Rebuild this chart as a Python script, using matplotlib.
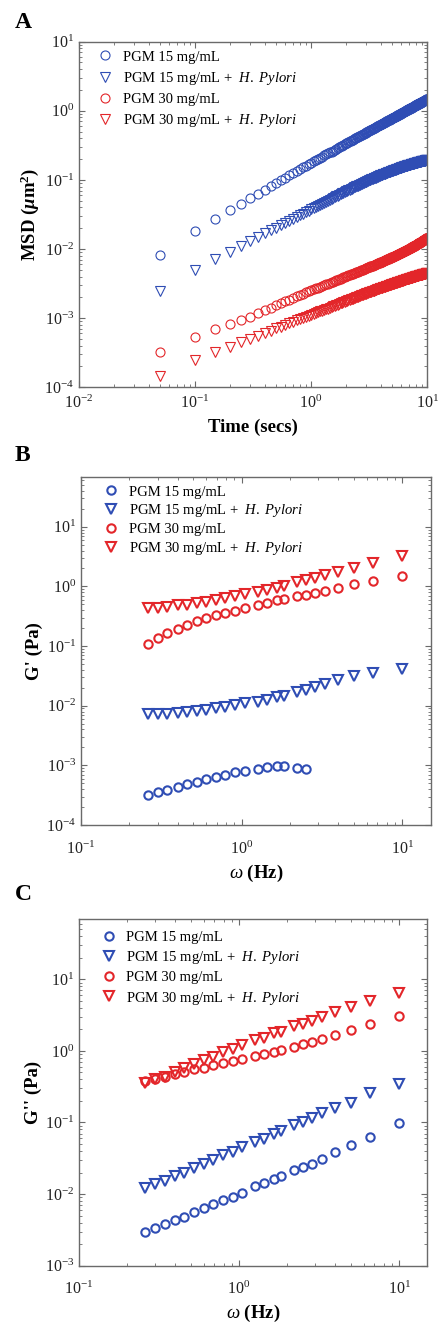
import matplotlib
matplotlib.use("Agg")
import matplotlib.pyplot as plt
from matplotlib.ticker import LogLocator, NullFormatter

plt.rcParams["font.family"] = "Liberation Serif"
plt.rcParams["mathtext.fontset"] = "custom"
plt.rcParams["mathtext.rm"] = "Liberation Serif"
plt.rcParams["mathtext.it"] = "Liberation Serif:italic"
plt.rcParams["mathtext.bf"] = "Liberation Serif:bold"
plt.rcParams["mathtext.bfit"] = "Liberation Serif:italic:bold"

# ---- particle tracking MSD (lag time in s) ----
time_s = [
    0.05, 0.1, 0.15, 0.2, 0.25, 0.3, 0.35, 0.4, 0.45, 0.5, 0.55, 0.6, 0.65, 0.7, 0.75, 0.8, 0.85, 0.9, 0.95, 1.0,
    1.05, 1.1, 1.15, 1.2, 1.25, 1.3, 1.35, 1.4, 1.45, 1.5, 1.55, 1.6, 1.65, 1.7, 1.75, 1.8, 1.85, 1.9, 1.95, 2.0,
    2.05, 2.1, 2.15, 2.2, 2.25, 2.3, 2.35, 2.4, 2.45, 2.5, 2.55, 2.6, 2.65, 2.7, 2.75, 2.8, 2.85, 2.9, 2.95, 3.0,
    3.05, 3.1, 3.15, 3.2, 3.25, 3.3, 3.35, 3.4, 3.45, 3.5, 3.55, 3.6, 3.65, 3.7, 3.75, 3.8, 3.85, 3.9, 3.95, 4.0,
    4.05, 4.1, 4.15, 4.2, 4.25, 4.3, 4.35, 4.4, 4.45, 4.5, 4.55, 4.6, 4.65, 4.7, 4.75, 4.8, 4.85, 4.9, 4.95, 5.0,
    5.05, 5.1, 5.15, 5.2, 5.25, 5.3, 5.35, 5.4, 5.45, 5.5, 5.55, 5.6, 5.65, 5.7, 5.75, 5.8, 5.85, 5.9, 5.95, 6.0,
    6.05, 6.1, 6.15, 6.2, 6.25, 6.3, 6.35, 6.4, 6.45, 6.5, 6.55, 6.6, 6.65, 6.7, 6.75, 6.8, 6.85, 6.9, 6.95, 7.0,
    7.05, 7.1, 7.15, 7.2, 7.25, 7.3, 7.35, 7.4, 7.45, 7.5, 7.55, 7.6, 7.65, 7.7, 7.75, 7.8, 7.85, 7.9, 7.95, 8.0,
    8.05, 8.1, 8.15, 8.2, 8.25, 8.3, 8.35, 8.4, 8.45, 8.5, 8.55, 8.6, 8.65, 8.7, 8.75, 8.8, 8.85, 8.9, 8.95, 9.0,
    9.05, 9.1, 9.15, 9.2, 9.25, 9.3, 9.35, 9.4, 9.45, 9.5, 9.55, 9.6, 9.65, 9.7, 9.75, 9.8, 9.85, 9.9, 9.95, 10.0,
]

msd_15 = [
    0.0083, 0.0184, 0.0275, 0.0365, 0.0454, 0.0544, 0.0633, 0.0722, 0.0811, 0.0900, 0.0988, 0.1077, 0.1165, 0.1253, 0.1341, 0.1429, 0.1517, 0.1605, 0.1692, 0.178,
    0.186, 0.1939, 0.2019, 0.2098, 0.2178, 0.2257, 0.2337, 0.2416, 0.2496, 0.2575, 0.2655, 0.2734, 0.2814, 0.2893, 0.2973, 0.3052, 0.3132, 0.3211, 0.3291, 0.337,
    0.3446, 0.3522, 0.3598, 0.3674, 0.375, 0.3826, 0.3902, 0.3978, 0.4054, 0.413, 0.4206, 0.4282, 0.4358, 0.4434, 0.451, 0.4586, 0.4662, 0.4738, 0.4814, 0.489,
    0.4964, 0.5038, 0.5112, 0.5186, 0.526, 0.5334, 0.5408, 0.5482, 0.5556, 0.563, 0.5704, 0.5778, 0.5852, 0.5926, 0.6, 0.6074, 0.6148, 0.6222, 0.6296, 0.637,
    0.6443, 0.6516, 0.6589, 0.6662, 0.6735, 0.6808, 0.6881, 0.6954, 0.7027, 0.71, 0.7173, 0.7246, 0.7319, 0.7392, 0.7465, 0.7538, 0.7611, 0.7684, 0.7757, 0.783,
    0.7902, 0.7973, 0.8045, 0.8116, 0.8188, 0.8259, 0.8331, 0.8402, 0.8474, 0.8545, 0.8617, 0.8688, 0.876, 0.8831, 0.8903, 0.8974, 0.9046, 0.9117, 0.9189, 0.926,
    0.933, 0.94, 0.947, 0.954, 0.961, 0.968, 0.975, 0.982, 0.989, 0.996, 1.003, 1.01, 1.017, 1.024, 1.031, 1.038, 1.045, 1.052, 1.059, 1.066,
    1.073, 1.08, 1.087, 1.094, 1.101, 1.108, 1.115, 1.122, 1.129, 1.136, 1.143, 1.151, 1.158, 1.165, 1.172, 1.179, 1.186, 1.193, 1.2, 1.207,
    1.214, 1.221, 1.228, 1.234, 1.241, 1.248, 1.255, 1.262, 1.269, 1.276, 1.282, 1.289, 1.296, 1.303, 1.31, 1.317, 1.323, 1.33, 1.337, 1.344,
    1.351, 1.358, 1.365, 1.371, 1.378, 1.385, 1.392, 1.399, 1.406, 1.413, 1.419, 1.426, 1.433, 1.44, 1.447, 1.454, 1.46, 1.467, 1.474, 1.481,
]

msd_15_hp = [
    0.00249, 0.00497, 0.0071, 0.00913, 0.01112, 0.01305, 0.01495, 0.0168, 0.01863, 0.02044, 0.02223, 0.024, 0.02576, 0.02748, 0.0292, 0.0309, 0.0326, 0.03427, 0.03594, 0.0376,
    0.03914, 0.04068, 0.04222, 0.04376, 0.0453, 0.04684, 0.04838, 0.04992, 0.05146, 0.053, 0.05454, 0.05608, 0.05762, 0.05916, 0.0607, 0.06224, 0.06378, 0.06532, 0.06686, 0.0684,
    0.06972, 0.07104, 0.07236, 0.07368, 0.075, 0.07632, 0.07764, 0.07896, 0.08028, 0.0816, 0.08292, 0.08424, 0.08556, 0.08688, 0.0882, 0.08952, 0.09084, 0.09216, 0.09348, 0.0948,
    0.09591, 0.09702, 0.09813, 0.09924, 0.10035, 0.10146, 0.10257, 0.10368, 0.10479, 0.1059, 0.10701, 0.10812, 0.10923, 0.11034, 0.11145, 0.11256, 0.11367, 0.11478, 0.11589, 0.117,
    0.11794, 0.11888, 0.11982, 0.12076, 0.1217, 0.12264, 0.12358, 0.12452, 0.12546, 0.1264, 0.12734, 0.12828, 0.12922, 0.13016, 0.1311, 0.13204, 0.13298, 0.13392, 0.13486, 0.1358,
    0.1366, 0.1374, 0.1382, 0.139, 0.1398, 0.1406, 0.1414, 0.1422, 0.143, 0.1438, 0.1446, 0.1454, 0.1462, 0.147, 0.1478, 0.1486, 0.1494, 0.1502, 0.151, 0.1518,
    0.1525, 0.1531, 0.1538, 0.1545, 0.1552, 0.1558, 0.1565, 0.1572, 0.1578, 0.1585, 0.1592, 0.1598, 0.1605, 0.1612, 0.1619, 0.1625, 0.1632, 0.1639, 0.1645, 0.1652,
    0.1658, 0.1663, 0.1669, 0.1675, 0.1681, 0.1686, 0.1692, 0.1698, 0.1703, 0.1709, 0.1715, 0.172, 0.1726, 0.1732, 0.1738, 0.1743, 0.1749, 0.1755, 0.176, 0.1766,
    0.1771, 0.1776, 0.178, 0.1785, 0.179, 0.1795, 0.1799, 0.1804, 0.1809, 0.1814, 0.1818, 0.1823, 0.1828, 0.1833, 0.1837, 0.1842, 0.1847, 0.1852, 0.1856, 0.1861,
    0.1865, 0.1869, 0.1873, 0.1877, 0.1881, 0.1885, 0.1889, 0.1893, 0.1897, 0.1901, 0.1905, 0.1909, 0.1913, 0.1917, 0.1921, 0.1925, 0.1929, 0.1933, 0.1937, 0.1941,
]

msd_30 = [
    0.000321, 0.000541, 0.0007, 0.000826, 0.000945, 0.00105, 0.001173, 0.001294, 0.001412, 0.001527, 0.001639, 0.001747, 0.001854, 0.001958, 0.002061, 0.002162, 0.002261, 0.002359, 0.002455, 0.00255,
    0.002624, 0.002698, 0.002772, 0.002846, 0.00292, 0.002994, 0.003068, 0.003142, 0.003216, 0.00329, 0.003364, 0.003438, 0.003512, 0.003586, 0.00366, 0.003734, 0.003808, 0.003882, 0.003956, 0.00403,
    0.004093, 0.004156, 0.004219, 0.004283, 0.004346, 0.004409, 0.004472, 0.004535, 0.004598, 0.004662, 0.004725, 0.004788, 0.004851, 0.004914, 0.004977, 0.005041, 0.005104, 0.005167, 0.00523, 0.005293,
    0.005352, 0.005411, 0.005471, 0.00553, 0.005589, 0.005649, 0.005708, 0.005767, 0.005826, 0.005886, 0.005945, 0.006004, 0.006063, 0.006123, 0.006182, 0.006241, 0.0063, 0.00636, 0.006419, 0.006478,
    0.006537, 0.006596, 0.006655, 0.006714, 0.006773, 0.006832, 0.006891, 0.00695, 0.007009, 0.007068, 0.007127, 0.007186, 0.007245, 0.007304, 0.007363, 0.007422, 0.007481, 0.00754, 0.007599, 0.007658,
    0.007718, 0.007779, 0.007839, 0.0079, 0.00796, 0.008021, 0.008081, 0.008142, 0.008202, 0.008263, 0.008323, 0.008383, 0.008444, 0.008504, 0.008565, 0.008625, 0.008686, 0.008746, 0.008807, 0.008867,
    0.008931, 0.008994, 0.009058, 0.009121, 0.009185, 0.009249, 0.009312, 0.009376, 0.009439, 0.009503, 0.009567, 0.00963, 0.009694, 0.009757, 0.009821, 0.009885, 0.009948, 0.010012, 0.010075, 0.010139,
    0.010208, 0.010276, 0.010345, 0.010413, 0.010482, 0.01055, 0.010619, 0.010687, 0.010756, 0.010825, 0.010893, 0.010962, 0.01103, 0.011099, 0.011167, 0.011236, 0.011304, 0.011373, 0.011441, 0.01151,
    0.011583, 0.011656, 0.011729, 0.011802, 0.011875, 0.011948, 0.012021, 0.012094, 0.012167, 0.01224, 0.012313, 0.012386, 0.012459, 0.012532, 0.012605, 0.012678, 0.012751, 0.012824, 0.012897, 0.01297,
    0.013051, 0.013132, 0.013213, 0.013294, 0.013375, 0.013456, 0.013537, 0.013618, 0.013699, 0.01378, 0.013861, 0.013942, 0.014023, 0.014104, 0.014185, 0.014266, 0.014347, 0.014428, 0.014509, 0.01459,
]

msd_30_hp = [
    0.000146, 0.000245, 0.00032, 0.000387, 0.000449, 0.000506, 0.00056, 0.000612, 0.000661, 0.000709, 0.000755, 0.0008, 0.000843, 0.000885, 0.000926, 0.000967, 0.001006, 0.001045, 0.001083, 0.00112,
    0.001152, 0.001185, 0.001217, 0.001249, 0.001281, 0.001314, 0.001346, 0.001378, 0.00141, 0.001443, 0.001475, 0.001507, 0.001539, 0.001572, 0.001604, 0.001636, 0.001668, 0.001701, 0.001733, 0.001765,
    0.001791, 0.001817, 0.001843, 0.00187, 0.001896, 0.001922, 0.001948, 0.001974, 0.002, 0.002027, 0.002053, 0.002079, 0.002105, 0.002131, 0.002157, 0.002183, 0.00221, 0.002236, 0.002262, 0.002288,
    0.00231, 0.002332, 0.002354, 0.002377, 0.002399, 0.002421, 0.002443, 0.002465, 0.002487, 0.00251, 0.002532, 0.002554, 0.002576, 0.002598, 0.00262, 0.002642, 0.002665, 0.002687, 0.002709, 0.002731,
    0.00275, 0.00277, 0.002789, 0.002808, 0.002827, 0.002847, 0.002866, 0.002885, 0.002904, 0.002924, 0.002943, 0.002962, 0.002981, 0.003001, 0.00302, 0.003039, 0.003058, 0.003078, 0.003097, 0.003116,
    0.003133, 0.00315, 0.003167, 0.003184, 0.003201, 0.003218, 0.003235, 0.003252, 0.003269, 0.003286, 0.003303, 0.00332, 0.003337, 0.003354, 0.003371, 0.003388, 0.003405, 0.003422, 0.003439, 0.003456,
    0.003471, 0.003486, 0.003501, 0.003516, 0.003532, 0.003547, 0.003562, 0.003577, 0.003592, 0.003607, 0.003622, 0.003637, 0.003652, 0.003667, 0.003683, 0.003698, 0.003713, 0.003728, 0.003743, 0.003758,
    0.003772, 0.003785, 0.003799, 0.003813, 0.003826, 0.00384, 0.003854, 0.003867, 0.003881, 0.003895, 0.003908, 0.003922, 0.003935, 0.003949, 0.003963, 0.003976, 0.00399, 0.004004, 0.004017, 0.004031,
    0.004043, 0.004055, 0.004067, 0.00408, 0.004092, 0.004104, 0.004116, 0.004128, 0.00414, 0.004153, 0.004165, 0.004177, 0.004189, 0.004201, 0.004213, 0.004225, 0.004238, 0.00425, 0.004262, 0.004274,
    0.004285, 0.004296, 0.004308, 0.004319, 0.00433, 0.004341, 0.004352, 0.004364, 0.004375, 0.004386, 0.004397, 0.004408, 0.00442, 0.004431, 0.004442, 0.004453, 0.004464, 0.004476, 0.004487, 0.004498,
]

# ---- bulk rheology, frequency sweep ----
freq_hz = [0.26, 0.30, 0.345, 0.40, 0.455, 0.525, 0.60, 0.69, 0.79, 0.91, 1.05, 1.26,
           1.43, 1.65, 1.83, 2.2, 2.5, 2.85, 3.3, 4.0, 5.0, 6.6, 10.0]

g1_15 = [3.2e-4, 3.55e-4, 3.85e-4, 4.3e-4, 4.8e-4, 5.3e-4, 5.9e-4, 6.4e-4, 7.0e-4, 7.6e-4,
         8.2e-4, 8.8e-4, 9.3e-4, 9.6e-4, 9.7e-4, 9.2e-4, 8.7e-4]
g1_15_hp = [0.0072, 0.00725, 0.0073, 0.0075, 0.0078, 0.0081, 0.0085, 0.009, 0.0096, 0.0102, 0.0109, 0.0117,
            0.0126, 0.0138, 0.0148, 0.0172, 0.0184, 0.0203, 0.0228, 0.0265, 0.031, 0.036, 0.042]
g1_30 = [0.11, 0.137, 0.164, 0.194, 0.225, 0.262, 0.298, 0.328, 0.364, 0.393, 0.435, 0.485,
         0.528, 0.583, 0.62, 0.68, 0.73, 0.78, 0.85, 0.945, 1.08, 1.23, 1.49]
g1_30_hp = [0.435, 0.44, 0.456, 0.48, 0.497, 0.528, 0.552, 0.59, 0.63, 0.68, 0.735, 0.8,
            0.86, 0.945, 1.0, 1.17, 1.26, 1.4, 1.565, 1.765, 2.075, 2.51, 3.3]

g2_15 = [0.00292, 0.00332, 0.00378, 0.00435, 0.00484, 0.00557, 0.00647, 0.00723, 0.0083, 0.00925, 0.0105, 0.0128,
         0.0143, 0.0164, 0.0181, 0.022, 0.024, 0.0267, 0.0314, 0.0385, 0.0484, 0.0635, 0.0968]
g2_15_hp = [0.0123, 0.0137, 0.0152, 0.0179, 0.020, 0.0235, 0.0261, 0.0297, 0.0349, 0.0388, 0.0456, 0.0536,
            0.0597, 0.070, 0.0763, 0.0917, 0.102, 0.115, 0.134, 0.158, 0.19, 0.255, 0.35]
g2_30 = [0.38, 0.40, 0.43, 0.47, 0.51, 0.555, 0.585, 0.63, 0.685, 0.725, 0.765, 0.85,
         0.90, 0.97, 1.02, 1.15, 1.24, 1.34, 1.46, 1.66, 1.95, 2.36, 3.09]
g2_30_hp = [0.36, 0.40, 0.43, 0.50, 0.57, 0.65, 0.74, 0.83, 0.95, 1.05, 1.21, 1.41,
            1.53, 1.77, 1.86, 2.19, 2.41, 2.63, 2.99, 3.44, 4.04, 4.9, 6.5]

labels = ["PGM 15 mg/mL", r"PGM 15 mg/mL +  $\mathit{H.\ Pylori}$",
          "PGM 30 mg/mL", r"PGM 30 mg/mL +  $\mathit{H.\ Pylori}$"]

blue = "#2f4db4"
red = "#e3262a"


def style_axes(ax, xpad):
    ax.set_xscale("log")
    ax.set_yscale("log")
    for s in ax.spines.values():
        s.set_color("#6a6a6a")
        s.set_linewidth(1.0)
    ax.tick_params(which="both", direction="in", top=True, right=True,
                   colors="#6a6a6a", labelcolor="#222222", labelsize=11.5)
    ax.tick_params(which="major", length=4)
    ax.tick_params(which="minor", length=2)
    ax.tick_params(axis="x", pad=xpad)
    ax.xaxis.set_minor_locator(LogLocator(base=10, subs=range(2, 10), numticks=20))
    ax.yaxis.set_minor_locator(LogLocator(base=10, subs=range(2, 10), numticks=20))
    ax.xaxis.set_minor_formatter(NullFormatter())
    ax.yaxis.set_minor_formatter(NullFormatter())


fig = plt.figure(figsize=(4.44, 13.23), dpi=100)

# A: MSD
ax1 = fig.add_axes([0.178, 0.7073, 0.784, 0.2612])
style_axes(ax1, 5.5)
ax1.plot(time_s, msd_15, "o", ms=6.5, mfc="none", mec=blue, mew=0.8, label=labels[0])
ax1.plot(time_s, msd_15_hp, "v", ms=6.5, mfc="none", mec=blue, mew=0.8, label=labels[1])
ax1.plot(time_s, msd_30, "o", ms=6.5, mfc="none", mec=red, mew=0.8, label=labels[2])
ax1.plot(time_s, msd_30_hp, "v", ms=6.5, mfc="none", mec=red, mew=0.8, label=labels[3])
ax1.set_xlim(1e-2, 10)
ax1.set_ylim(1e-4, 10)
ax1.set_xlabel("Time (secs)", fontsize=13.5, fontweight="bold", labelpad=5)
ax1.set_ylabel(r"MSD ($\mathbfit{\mu}$m$^{\mathbf{2}}$)", fontsize=13.5, fontweight="bold", labelpad=2)
ax1.legend(loc="upper left", bbox_to_anchor=(0.055, 0.975), frameon=False, fontsize=10.5,
           handlelength=1.0, handletextpad=0.7, labelspacing=0.42, borderpad=0, borderaxespad=0)

# B: storage modulus
ax2 = fig.add_axes([0.1824, 0.3764, 0.7876, 0.2633])
style_axes(ax2, 11)
ax2.plot(freq_hz[:len(g1_15)], g1_15, "o", ms=6, mfc="none", mec=blue, mew=1.5, label=labels[0])
ax2.plot(freq_hz, g1_15_hp, "v", ms=6.5, mfc="none", mec=blue, mew=1.5, label=labels[1])
ax2.plot(freq_hz, g1_30, "o", ms=6, mfc="none", mec=red, mew=1.5, label=labels[2])
ax2.plot(freq_hz, g1_30_hp, "v", ms=6.5, mfc="none", mec=red, mew=1.5, label=labels[3])
ax2.set_xlim(0.1, 15)
ax2.set_ylim(1e-4, 10 ** 1.84)
ax2.set_xlabel(r"$\mathit{\omega}$ (Hz)", fontsize=13.5, fontweight="bold", labelpad=4)
ax2.set_ylabel("G' (Pa)", fontsize=13.5, fontweight="bold", labelpad=2)
ax2.legend(loc="upper left", bbox_to_anchor=(0.065, 0.975), frameon=False, fontsize=10.5,
           handlelength=1.0, handletextpad=0.7, labelspacing=0.25, borderpad=0, borderaxespad=0)

# C: loss modulus
ax3 = fig.add_axes([0.178, 0.0433, 0.7845, 0.262])
style_axes(ax3, 11)
ax3.plot(freq_hz, g2_15, "o", ms=6, mfc="none", mec=blue, mew=1.5, label=labels[0])
ax3.plot(freq_hz, g2_15_hp, "v", ms=6.5, mfc="none", mec=blue, mew=1.5, label=labels[1])
ax3.plot(freq_hz, g2_30, "o", ms=6, mfc="none", mec=red, mew=1.5, label=labels[2])
ax3.plot(freq_hz, g2_30_hp, "v", ms=6.5, mfc="none", mec=red, mew=1.5, label=labels[3])
ax3.set_xlim(0.1, 15)
ax3.set_ylim(1e-3, 10 ** 1.84)
ax3.set_xlabel(r"$\mathit{\omega}$ (Hz)", fontsize=13.5, fontweight="bold", labelpad=3)
ax3.set_ylabel("G'' (Pa)", fontsize=13.5, fontweight="bold", labelpad=2)
ax3.legend(loc="upper left", bbox_to_anchor=(0.065, 0.966), frameon=False, fontsize=10.5,
           handlelength=1.0, handletextpad=0.7, labelspacing=0.35, borderpad=0, borderaxespad=0)

for letter, ypix in (("A", 12), ("B", 445), ("C", 884)):
    fig.text(15 / 444, 1 - ypix / 1323, letter, fontsize=17, fontweight="bold", va="top", ha="left")

fig.savefig("out.png", dpi=100)
